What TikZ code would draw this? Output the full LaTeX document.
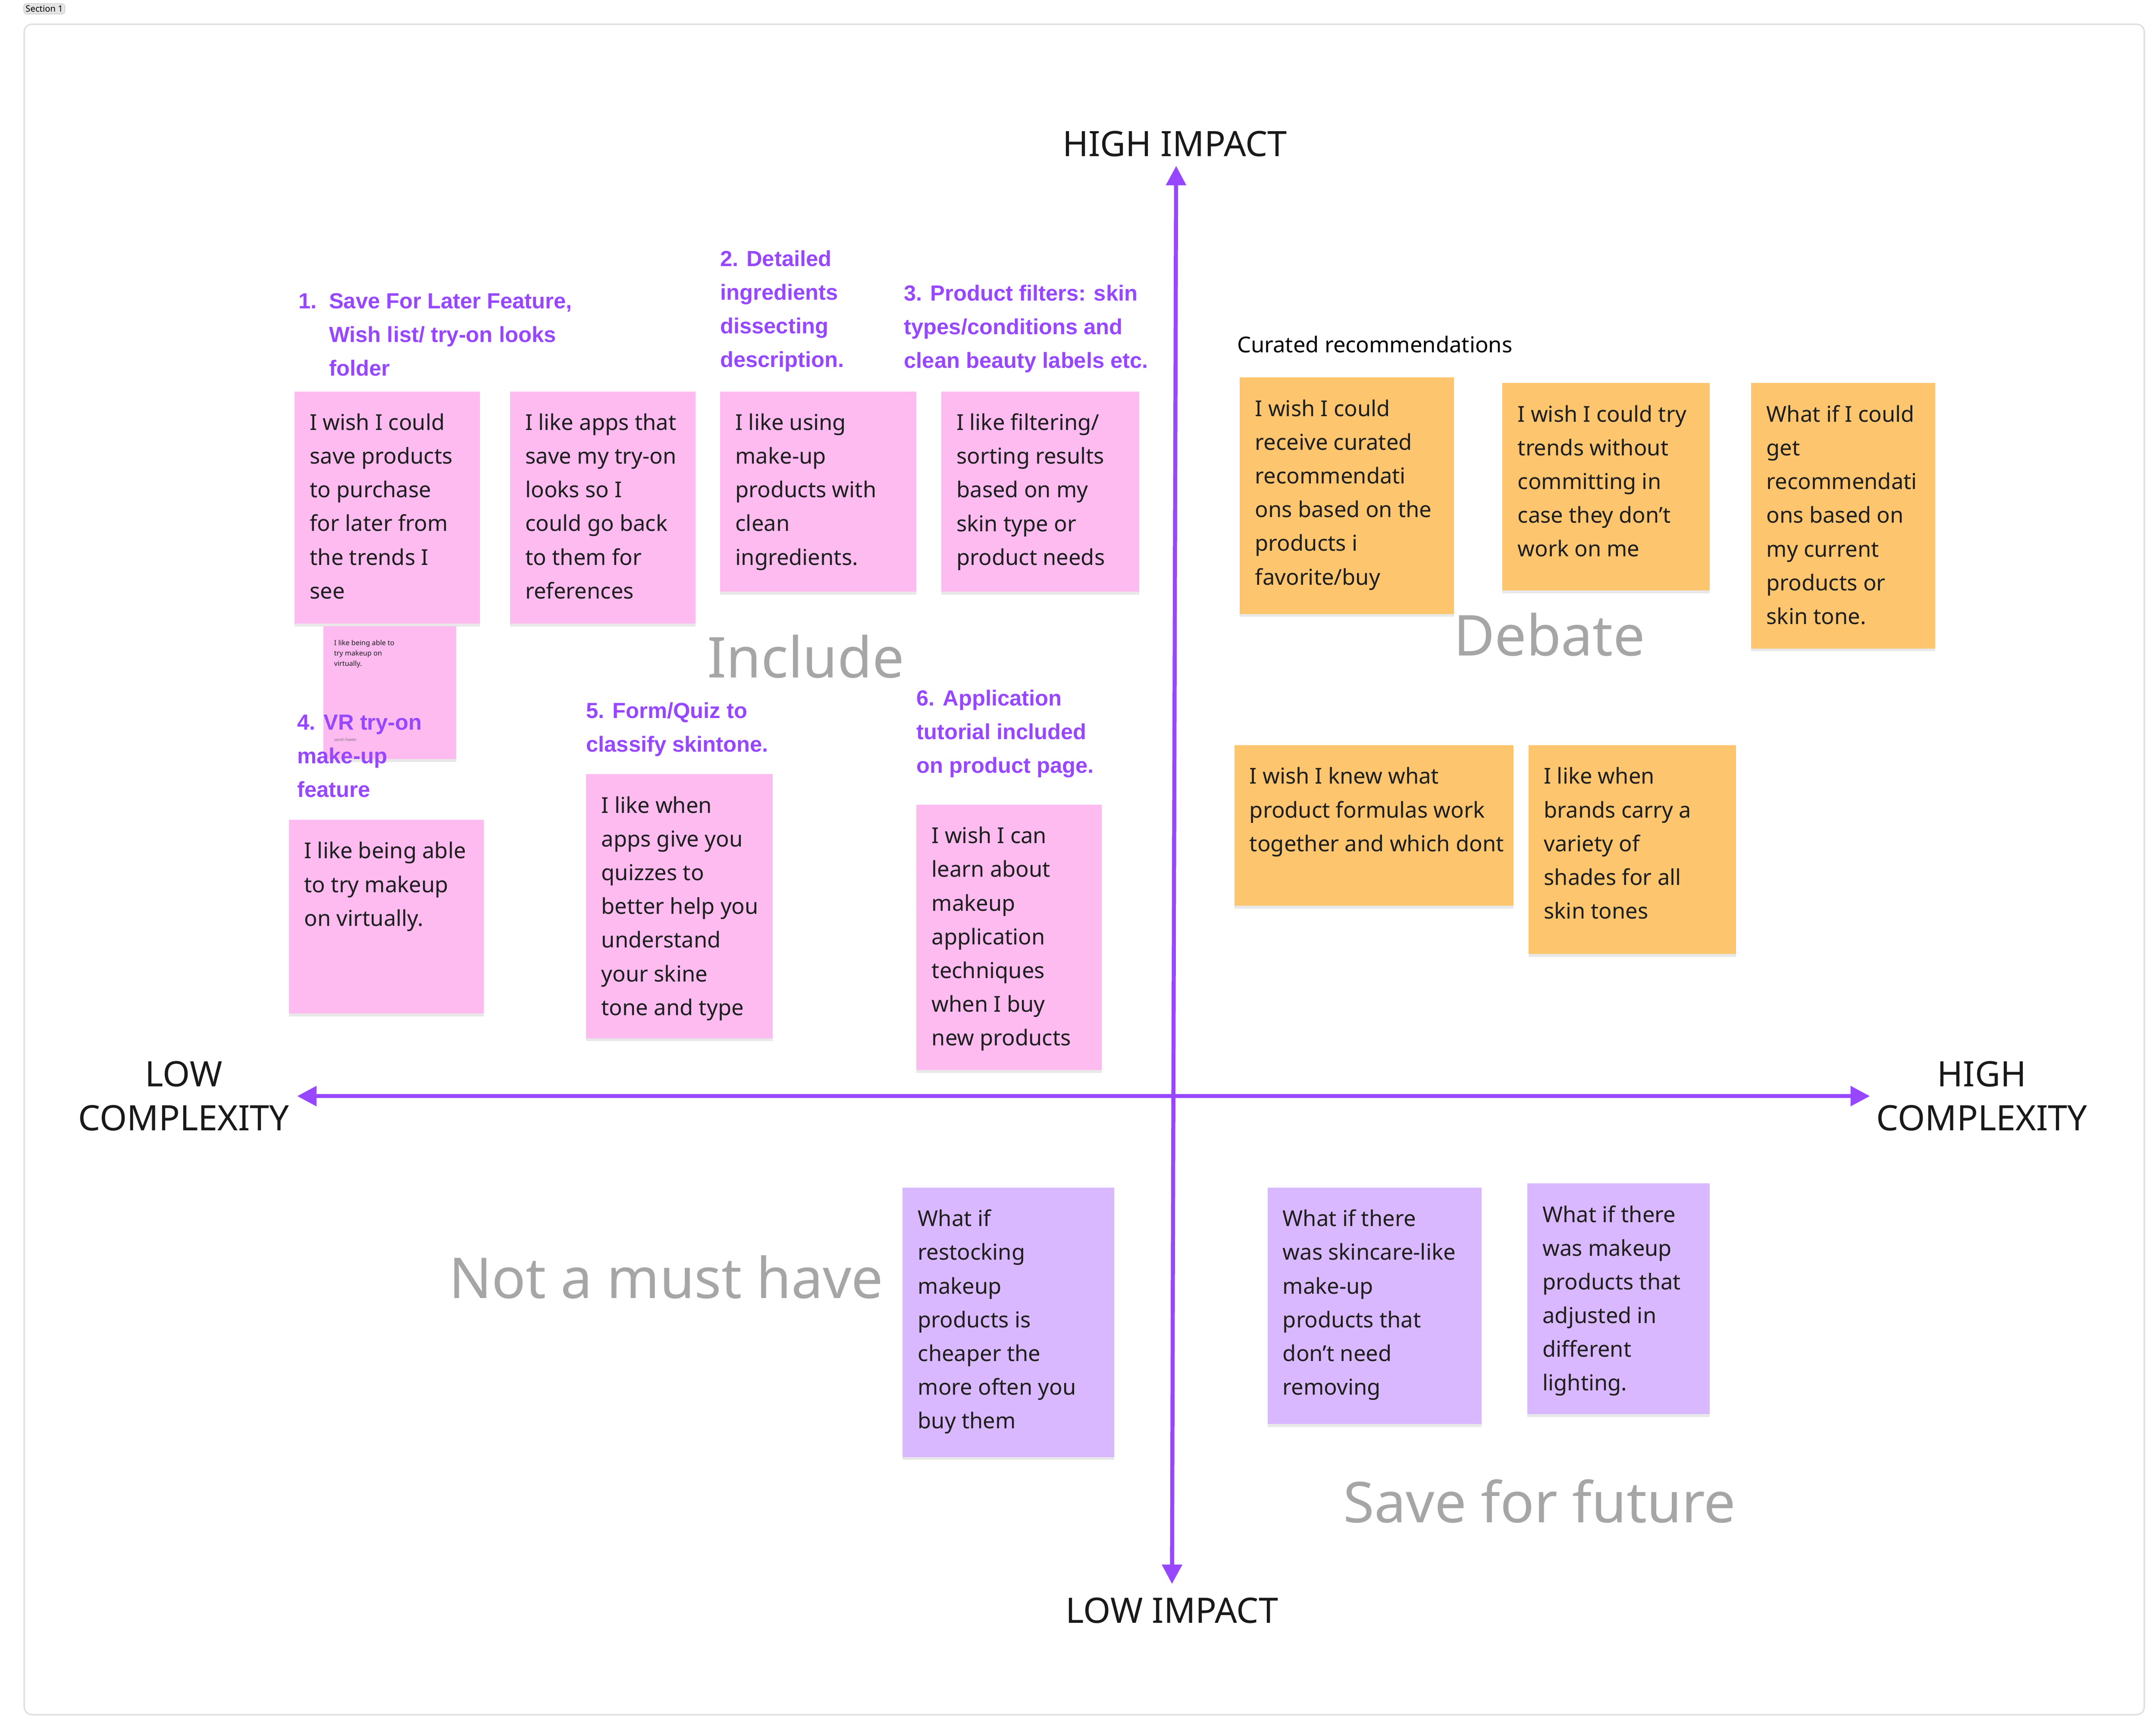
\documentclass[tikz,border=0pt]{standalone}
\usepackage{fontspec}
\setmainfont{Noto Sans}
\newfontfamily\headfont{Liberation Sans}
\usetikzlibrary{arrows.meta,shadows}
\definecolor{pinknote}{HTML}{FDBBF0}
\definecolor{orangenote}{HTML}{FDC56E}
\definecolor{purplenote}{HTML}{D9B8FF}
\definecolor{accent}{HTML}{9747FF}
\definecolor{bigtxt}{HTML}{A6A6A6}
\definecolor{notetxt}{HTML}{1E1E1E}
\tikzset{
  stickybox/.style={draw=none,inner sep=0pt,anchor=north west,drop shadow={opacity=0.18,shadow xshift=0pt,shadow yshift=-3pt}},
  notetext/.style={anchor=north west,inner sep=0pt,align=left,text=notetxt,font=\fontsize{22.5}{34.7}\selectfont},
  headtext/.style={anchor=north west,inner sep=0pt,align=left,text=accent,font=\headfont\bfseries\fontsize{22.5}{34.7}\selectfont},
  axislabel/.style={inner sep=0pt,align=center,text=black!90,font=\fontsize{36}{45.5}\selectfont},
  quadlabel/.style={inner sep=0pt,text=bigtxt,font=\fontsize{58}{60}\selectfont},
  axisline/.style={accent,line width=4.2pt,-{Triangle[length=20pt,width=20pt]}}
}
\newcommand{\mynote}[7]{%
  \path (#2,#3) coordinate (#1tl) (#4,#5) coordinate (#1br);
  \node[stickybox,fill=#6,minimum width={(#4-#2)*0.05cm},minimum height={(#5-#3)*0.05cm}] (#1) at (#1tl) {};
  \node[notetext] (#1t) at ([xshift=0.55cm,yshift=-0.8cm]#1.north west) {#7};
}
\begin{document}
\begin{tikzpicture}[x=0.05cm,y=-0.05cm]
\useasboundingbox[fill=white] (0,0) rectangle (1560,1248);
\node[draw=black!12,line width=1.5pt,rounded corners=8pt,inner sep=0pt,anchor=north west,minimum width={1534*0.05cm},minimum height={1223*0.05cm}] (frame) at (17,17) {};
\node[draw=black!25,fill=black!10,rounded corners=3pt,inner sep=2pt,font=\fontsize{9}{10}\selectfont,anchor=north west] (sec) at (17,2.5) {Section 1};

% axes
\path (849,793) coordinate (ctr) (851,120) coordinate (top) (848,1146) coordinate (bot) (215,793) coordinate (lft) (1353,793) coordinate (rgt);
\draw[axisline] (ctr) -- (top);
\draw[axisline] (ctr) -- (bot);
\draw[axisline] (ctr) -- (lft);
\draw[axisline] (ctr) -- (rgt);
\node[axislabel] (hi) at (850,104) {HIGH IMPACT};
\node[axislabel] (lo) at (848,1165) {LOW IMPACT};
\node[axislabel] (lc) at (133,793) {LOW\\COMPLEXITY};
\node[axislabel] (hc) at (1434,793) {HIGH\\COMPLEXITY};

% quadrant labels
\node[quadlabel] (inc) at (583,475) {Include};
\node[quadlabel] (deb) at (1121,459) {Debate};
\node[quadlabel] (nmh) at (482,924) {Not a must have};
\node[quadlabel] (sff) at (1114,1086) {Save for future};

% headings
\node[headtext] (h1) at (216,212) {1.\ \ Save For Later Feature,\\\hphantom{1.\ \ }Wish list/ try-on looks\\\hphantom{1.\ \ }folder};
\node[headtext] (h2) at (521,181) {2. Detailed\\ingredients\\dissecting\\description.};
\node[headtext] (h3) at (654,206) {3. Product filters: skin\\types/conditions and\\clean beauty labels etc.};
\node[headtext] (h5) at (424,508) {5. Form/Quiz to\\classify skintone.};
\node[headtext] (h6) at (663,499) {6. Application\\tutorial included\\on product page.};
\node[anchor=north west,inner sep=0pt,font=\fontsize{22.5}{34.7}\selectfont] (cur) at (895,243) {Curated recommendations};

% pink notes
\mynote{n1}{213}{283}{347}{451}{pinknote}{I wish I could\\save products\\to purchase\\for later from\\the trends I\\see}
\mynote{n2}{369}{283}{503}{451}{pinknote}{I like apps that\\save my try-on\\looks so I\\could go back\\to them for\\references}
\mynote{n3}{521}{283}{663}{428}{pinknote}{I like using\\make-up\\products with\\clean\\ingredients.}
\mynote{n4}{681}{283}{824}{428}{pinknote}{I like filtering/\\sorting results\\based on my\\skin type or\\product needs}
% small note
\path (234,453) coordinate (smtl);
\node[stickybox,fill=pinknote,minimum width={96*0.05cm},minimum height={96*0.05cm}] (sm) at (smtl) {};
\node[anchor=north west,inner sep=0pt,align=left,text=notetxt,font=\fontsize{7.2}{10.5}\selectfont] (smt) at ([xshift=0.38cm,yshift=-0.5cm]sm.north west) {I like being able to\\try makeup on\\virtually.};
\node[anchor=north west,inner sep=0pt,text=black!55,font=\fontsize{4}{5}\selectfont] (sma) at ([xshift=0.38cm,yshift=-4.05cm]sm.north west) {sarah fowler};
\node[headtext] (h4) at (215,517) {4. VR try-on\\make-up\\feature};
\mynote{n5}{209}{593}{350}{733}{pinknote}{I like being able\\to try makeup\\on virtually.}
\mynote{n6}{424}{560}{559}{751}{pinknote}{I like when\\apps give you\\quizzes to\\better help you\\understand\\your skine\\tone and type}
\mynote{n7}{663}{582}{797}{774}{pinknote}{I wish I can\\learn about\\makeup\\application\\techniques\\when I buy\\new products}

% orange notes
\mynote{o1}{897}{273}{1052}{444}{orangenote}{I wish I could\\receive curated\\recommendati\\ons based on the\\products i\\favorite/buy}
\mynote{o2}{1087}{277}{1237}{427}{orangenote}{I wish I could try\\trends without\\committing in\\case they don’t\\work on me}
\mynote{o3}{1267}{277}{1400}{469}{orangenote}{What if I could\\get\\recommendati\\ons based on\\my current\\products or\\skin tone.}
\mynote{o4}{893}{539}{1095}{655}{orangenote}{I wish I knew what\\product formulas work\\together and which dont}
\mynote{o5}{1106}{539}{1256}{690}{orangenote}{I like when\\brands carry a\\variety of\\shades for all\\skin tones}

% purple notes
\mynote{p1}{653}{859}{806}{1054}{purplenote}{What if\\restocking\\makeup\\products is\\cheaper the\\more often you\\buy them}
\mynote{p2}{917}{859}{1072}{1030}{purplenote}{What if there\\was skincare-like\\make-up\\products that\\don’t need\\removing}
\mynote{p3}{1105}{856}{1237}{1023}{purplenote}{What if there\\was makeup\\products that\\adjusted in\\different\\lighting.}
\end{tikzpicture}
\end{document}
